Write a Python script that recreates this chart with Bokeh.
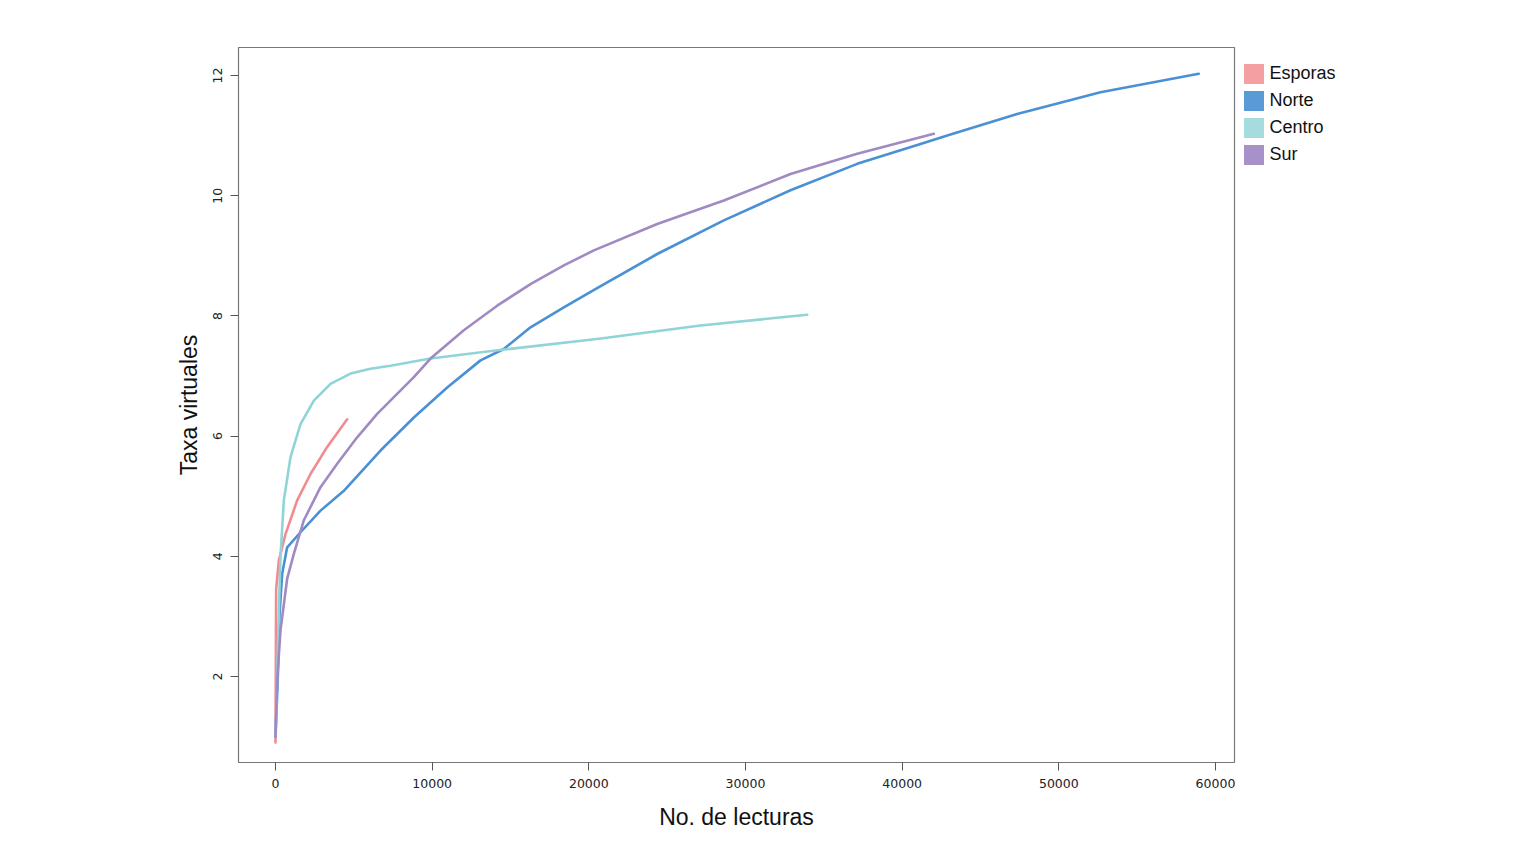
from bokeh.plotting import figure
from bokeh.models import Range1d, Legend, LegendItem, FixedTicker
from bokeh.embed import file_html
from bokeh.resources import INLINE

# Data
esporas_x = [0, 40, 213, 638, 1383, 2234, 3298, 4575]
esporas_y = [0.9, 3.45, 3.93, 4.37, 4.93, 5.37, 5.82, 6.28]

norte_x = [0, 150, 250, 425, 745, 1596, 2873, 4362, 6702, 8830, 10960, 13085, 14573,
           16277, 18404, 20640, 24363, 28618, 32873, 37130, 41170, 43085, 47340, 52660, 58930]
norte_y = [1.0, 2.0, 3.0, 3.71, 4.15, 4.40, 4.76, 5.09, 5.76, 6.31, 6.81, 7.26, 7.45,
           7.81, 8.14, 8.48, 9.03, 9.59, 10.09, 10.53, 10.86, 11.02, 11.36, 11.72, 12.03]

centro_x = [0, 210, 319, 532, 957, 1596, 2447, 3511, 4787, 6064, 7340, 9894, 14573,
            20640, 27130, 33940]
centro_y = [1.0, 3.04, 4.0, 4.93, 5.65, 6.20, 6.59, 6.87, 7.04, 7.12, 7.17, 7.29, 7.44,
            7.62, 7.84, 8.02]

sur_x = [0, 106, 319, 745, 1170, 1809, 2873, 3937, 5213, 6490, 8830, 9894, 12020,
         14150, 16277, 18404, 20320, 24363, 28618, 32873, 37130, 42020]
sur_y = [1.0, 1.93, 2.77, 3.63, 4.04, 4.60, 5.15, 5.54, 5.98, 6.37, 6.98, 7.29, 7.76,
         8.17, 8.53, 8.84, 9.09, 9.53, 9.92, 10.36, 10.70, 11.03]

names = ["Esporas", "Norte", "Centro", "Sur"]
line_colors = ["#F28B90", "#4A90D4", "#90D4D8", "#A08AC4"]
patch_colors = ["#F4A0A2", "#5B9BD5", "#A6DCDD", "#A890C8"]

x_ticks = [0, 10000, 20000, 30000, 40000, 50000, 60000]
y_ticks = [2, 4, 6, 8, 10, 12]

p = figure(frame_width=996, frame_height=715, output_backend="svg", toolbar_location=None,
           x_range=Range1d(-2362, 61213), y_range=Range1d(0.569, 12.466),
           min_border_left=238, min_border_top=47, min_border_right=240,
           min_border_bottom=97)

p.xgrid.visible = False
p.ygrid.visible = False
p.outline_line_color = "#777777"
p.outline_line_width = 1.2

series = [(esporas_x, esporas_y), (norte_x, norte_y), (centro_x, centro_y), (sur_x, sur_y)]
for (xs, ys), c in zip(series, line_colors):
    p.line(xs, ys, line_color=c, line_width=2.6, line_join="round", line_cap="round")

for ax in (p.xaxis[0], p.yaxis[0]):
    ax.axis_line_color = None
    ax.major_tick_out = 8
    ax.major_tick_in = 0
    ax.minor_tick_line_color = None
    ax.major_tick_line_color = "#555555"
    ax.major_label_text_font = "DejaVu Sans"
    ax.major_label_text_font_size = "12.5px"
    ax.major_label_text_color = "#222222"
    ax.axis_label_text_font = "Liberation Sans"
    ax.axis_label_text_font_style = "normal"
    ax.axis_label_text_font_size = "23px"
    ax.axis_label_text_color = "#111111"

p.xaxis[0].ticker = FixedTicker(ticks=x_ticks)
p.yaxis[0].ticker = FixedTicker(ticks=y_ticks)
p.xaxis[0].major_label_standoff = 8
p.xaxis[0].axis_label = "No. de lecturas"
p.xaxis[0].axis_label_standoff = 13
p.yaxis[0].major_label_orientation = "vertical"
p.yaxis[0].major_label_standoff = 8
p.yaxis[0].axis_label = "Taxa virtuales"
p.yaxis[0].axis_label_standoff = 9

# legend swatches: zero-size quads at each series' own points (draw nothing in the plot)
patch_renderers = []
for (xs, ys), pc in zip(series, patch_colors):
    r = p.quad(left=xs, right=xs, top=ys, bottom=ys, fill_color=pc, line_color=None)
    patch_renderers.append(r)

legend = Legend(items=[LegendItem(label=n, renderers=[r]) for n, r in zip(names, patch_renderers)],
                location=(6.5, 595.5), margin=0, padding=0, spacing=2,
                glyph_width=25, glyph_height=25, label_standoff=4,
                label_text_font="Liberation Sans", label_text_font_size="18px",
                label_text_color="#111111", border_line_color=None,
                background_fill_alpha=0)
p.add_layout(legend, "right")

open("out.html", "w").write(file_html(p, INLINE))
